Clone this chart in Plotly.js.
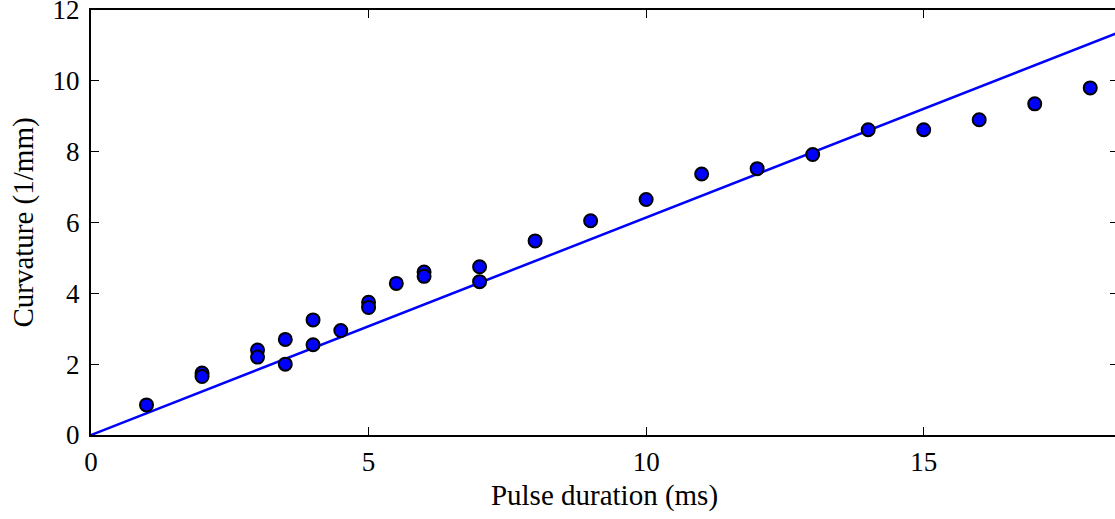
<!DOCTYPE html>
<html>
<head>
<meta charset="utf-8">
<script src="https://cdn.plot.ly/plotly-3.0.1.min.js"></script>
<style>
  html, body { margin: 0; padding: 0; background: #fff; overflow: hidden; }
  #chart { width: 1118px; height: 519px; }
</style>
</head>
<body>
<div id="chart"></div>
<script>
// Measured curvature versus pulse duration
const pulseMs = [1, 2, 2, 3, 3, 3.5, 3.5, 4, 4, 4.5, 5, 5, 5.5, 6, 6, 7, 7,
                 8, 9, 10, 11, 12, 13, 14, 15, 16, 17, 18];
const curvature = [0.85, 1.75, 1.65, 2.4, 2.2, 2.7, 2.0, 3.25, 2.55, 2.95, 3.75, 3.6, 4.28,
                   4.6, 4.48, 4.75, 4.33, 5.48, 6.05, 6.65, 7.37, 7.52, 7.92, 8.62,
                   8.62, 8.9, 9.35, 9.8];

// Linear fit through the origin
const fitSlope = 0.614;
const fitX = [0, 18.5];
const fitY = fitX.map(x => x * fitSlope);

const xTicks = [0, 5, 10, 15];
const yTicks = [0, 2, 4, 6, 8, 10, 12];

const serif = "'Liberation Serif', 'DejaVu Serif', serif";

const traces = [
  {
    x: fitX, y: fitY, mode: 'lines', type: 'scatter',
    line: { color: '#0000ff', width: 2.5 },
    hoverinfo: 'skip'
  },
  {
    x: pulseMs, y: curvature, mode: 'markers', type: 'scatter',
    marker: { size: 13, color: '#0000ff', line: { color: '#000', width: 2 } },
    cliponaxis: false
  }
];

const axisCommon = {
  showline: true, linecolor: '#000', linewidth: 2,
  mirror: 'ticks', ticks: 'inside', ticklen: 8, tickwidth: 1.2, tickcolor: '#000',
  showgrid: false, zeroline: false,
  ticklabeloverflow: 'allow',
  tickfont: { family: serif, size: 27, color: '#000' }
};

const layout = {
  width: 1118, height: 519,
  margin: { l: 91, r: 0, t: 10, b: 84 },
  paper_bgcolor: '#fff', plot_bgcolor: '#fff',
  showlegend: false,
  xaxis: Object.assign({}, axisCommon, {
    range: [0, 18.5], tickvals: xTicks,
    ticklabelstandoff: 2,
    title: { text: 'Pulse duration (ms)', font: { family: serif, size: 29, color: '#000' }, standoff: 8 }
  }),
  yaxis: Object.assign({}, axisCommon, {
    range: [0, 12], tickvals: yTicks,
    ticklabelstandoff: 4,
    title: { text: 'Curvature (1/mm)', font: { family: serif, size: 29, color: '#000' }, standoff: 10 }
  })
};

Plotly.newPlot('chart', traces, layout, { displayModeBar: false, staticPlot: true });
</script>
</body>
</html>
